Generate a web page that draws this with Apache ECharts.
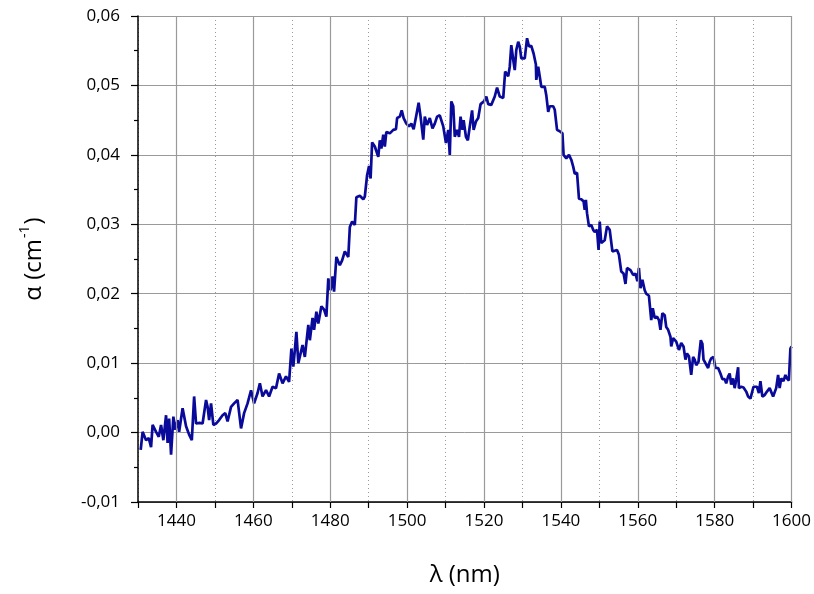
<!DOCTYPE html>
<html>
<head>
<meta charset="utf-8">
<script src="https://cdn.jsdelivr.net/npm/echarts@6/dist/echarts.min.js"></script>
<style>html,body{margin:0;padding:0;background:#fff}#c{width:814px;height:594px}</style>
</head>
<body>
<div id="c"></div>
<script>
const wavelength = [1430.7,1431.2,1432.1,1432.8,1433.4,1433.8,1434.7,1435.4,1436.0,1436.6,1437.3,1437.7,1438.1,1438.6,1439.2,1439.7,1440.3,1440.7,1441.6,1442.5,1443.3,1444.0,1444.6,1445.1,1446.0,1446.8,1447.7,1448.1,1448.5,1449.0,1449.6,1450.3,1451.1,1452.0,1452.7,1453.3,1454.2,1455.0,1455.9,1456.8,1457.6,1458.5,1459.4,1460.2,1461.1,1461.7,1462.4,1463.3,1464.1,1465.0,1465.9,1466.7,1467.6,1468.5,1469.3,
1469.9,1470.4,1470.8,1471.2,1471.7,1472.1,1472.8,1473.4,1474.3,1474.7,1475.4,1475.8,1476.4,1476.9,1477.7,1478.4,1479.0,1479.5,1480.1,1480.6,1481.0,1481.6,1482.5,1483.1,1483.8,1484.7,1485.1,1485.7,1486.4,1486.8,1487.7,1488.6,1489.0,1489.6,1490.1,1490.5,1490.9,1491.6,1492.5,1492.9,1493.3,1493.8,1494.2,1494.6,1495.5,1496.4,1497.1,1497.4,1498.1,1498.6,1499.1,1499.8,1500.5,1501.1,1501.7,1502.4,1503.0,1503.5,1504.2,1504.6,1505.2,1505.9,1506.6,1507.2,1507.8,1508.5,
1509.4,1510.1,1510.7,1511.1,1511.5,1512.0,1512.4,1513.0,1513.5,1513.9,1514.4,1514.7,1515.3,1515.8,1516.3,1516.9,1517.3,1517.9,1518.5,1519.1,1520.0,1520.6,1521.1,1521.9,1522.4,1522.8,1523.4,1524.1,1525.0,1525.5,1526.3,1526.7,1527.1,1527.6,1528.0,1528.4,1528.9,1529.3,1529.7,1530.6,1531.2,1531.7,1532.3,1532.9,1533.5,1533.6,1534.1,1534.5,1534.9,1535.8,1536.2,1536.7,1537.1,1538.0,1538.4,1539.0,1539.7,1540.4,1540.7,1541.4,1542.1,1542.7,
1543.2,1543.6,1544.2,1544.7,1545.3,1545.9,1546.2,1546.5,1546.8,1547.3,1547.9,1548.4,1548.8,1549.4,1549.8,1550.1,1550.5,1551.4,1552.0,1552.7,1553.4,1554.0,1554.6,1555.1,1555.7,1556.3,1556.8,1557.2,1558.1,1558.8,1559.4,1559.9,1560.3,1560.7,1561.2,1561.8,1562.2,1562.9,1563.5,1563.9,1564.4,1565.0,1565.5,1565.9,1566.4,1567.0,1567.4,1567.9,1568.5,1568.7,1569.2,1569.6,1570.0,1570.7,1571.3,1571.9,1572.4,1572.8,1573.3,1573.9,1574.4,1574.8,1575.2,1575.8,1576.4,1576.8,1577.1,1577.6,1578.3,1578.7,1579.1,1579.7,1580.2,1580.9,1581.5,1582.0,1582.6,1583.0,1583.5,1583.9,1584.3,1584.8,1585.2,1585.6,1586.1,1586.3,1586.9,1587.5,1588.2,1588.7,1589.3,1589.8,1590.1,1590.6,1591.0,1591.5,1591.9,1592.4,1593.0,1593.6,1594.3,1594.7,1595.2,1595.6,1596.0,1596.5,1596.9,1597.3,1597.9,1598.4,1598.8,1599.3,1599.7,1600.0];
const alpha = [-0.0025,0.0001,-0.0011,-0.0008,-0.0021,0.0011,0.0001,-0.0006,0.0011,-0.0011,0.0025,-0.0015,0.0020,-0.0032,0.0023,0.0004,0.0018,0.0001,0.0035,0.0009,-0.0003,-0.0011,0.0052,0.0013,0.0014,0.0013,0.0047,0.0037,0.0018,0.0042,0.0011,0.0013,0.0018,0.0025,0.0028,0.0016,0.0037,0.0042,0.0047,0.0006,0.0028,0.0042,0.0061,0.0042,0.0057,0.0071,0.0052,0.0061,0.0052,0.0066,0.0064,0.0085,0.0071,0.0081,0.0073,
0.0121,0.0095,0.0119,0.0145,0.0100,0.0102,0.0126,0.0109,0.0155,0.0133,0.0165,0.0148,0.0174,0.0157,0.0182,0.0177,0.0167,0.0222,0.0205,0.0225,0.0203,0.0253,0.0241,0.0248,0.0261,0.0253,0.0296,0.0304,0.0299,0.0339,0.0341,0.0336,0.0340,0.0371,0.0384,0.0366,0.0418,0.0412,0.0397,0.0421,0.0409,0.0429,0.0412,0.0433,0.0431,0.0436,0.0437,0.0453,0.0455,0.0464,0.0453,0.0445,0.0441,0.0445,0.0437,0.0457,0.0475,0.0455,0.0422,0.0455,0.0443,0.0453,0.0438,0.0445,0.0455,0.0457,
0.0441,0.0417,0.0436,0.0400,0.0477,0.0470,0.0426,0.0436,0.0426,0.0455,0.0436,0.0450,0.0426,0.0421,0.0441,0.0464,0.0436,0.0448,0.0453,0.0473,0.0477,0.0484,0.0473,0.0472,0.0470,0.0484,0.0497,0.0484,0.0482,0.0520,0.0513,0.0527,0.0558,0.0537,0.0522,0.0551,0.0563,0.0556,0.0539,0.0539,0.0568,0.0556,0.0557,0.0546,0.0530,0.0508,0.0527,0.0513,0.0498,0.0498,0.0486,0.0462,0.0470,0.0470,0.0465,0.0436,0.0434,0.0431,0.0400,0.0395,0.0400,0.0393,
0.0383,0.0373,0.0374,0.0337,0.0336,0.0333,0.0321,0.0335,0.0316,0.0297,0.0299,0.0292,0.0289,0.0292,0.0263,0.0304,0.0273,0.0277,0.0297,0.0292,0.0261,0.0262,0.0263,0.0256,0.0232,0.0229,0.0214,0.0237,0.0234,0.0227,0.0229,0.0218,0.0237,0.0208,0.0220,0.0205,0.0200,0.0197,0.0162,0.0179,0.0165,0.0167,0.0162,0.0148,0.0172,0.0169,0.0152,0.0148,0.0138,0.0124,0.0136,0.0134,0.0131,0.0119,0.0129,0.0124,0.0105,0.0114,0.0110,0.0083,0.0109,0.0105,0.0097,0.0102,0.0133,0.0128,0.0105,0.0105,0.0093,0.0102,0.0107,0.0109,0.0093,0.0093,0.0085,0.0077,0.0077,0.0071,0.0081,0.0085,0.0069,0.0078,0.0064,0.0076,0.0094,0.0064,0.0066,0.0065,0.0059,0.0052,0.0049,0.0047,0.0066,0.0064,0.0066,0.0057,0.0074,0.0052,0.0054,0.0059,0.0064,0.0062,0.0052,0.0052,0.0064,0.0083,0.0064,0.0078,0.0074,0.0083,0.0078,0.0075,0.0121,0.0124];
const majorX = [1440,1460,1480,1500,1520,1540,1560,1580,1600];

const chart = echarts.init(document.getElementById('c'));
const FONT = 'Open Sans';
chart.setOption({
  animation: false,
  backgroundColor: '#fff',
  grid: {left: 138, right: 22, top: 16, bottom: 92, containLabel: false},
  xAxis: {
    type: 'value', min: 1430, max: 1600, interval: 10,
    name: 'λ (nm)', nameLocation: 'middle', nameGap: 61,
    nameTextStyle: {fontFamily: FONT, fontSize: 24, color: '#000'},
    axisLine: {show: true, onZero: false, lineStyle: {color: '#000', width: 1.5}},
    axisTick: {show: true, length: 6, lineStyle: {color: '#000', width: 1.2}},
    axisLabel: {
      fontFamily: FONT, fontSize: 17, color: '#000', margin: 11,
      formatter: v => (Math.round(v) % 20 === 0 ? String(Math.round(v)) : '')
    },
    splitLine: {show: true, lineStyle: {color: '#9a9a9a', type: [1, 3], width: 1}}
  },
  yAxis: {
    type: 'value', min: -0.01, max: 0.06, interval: 0.01,
    name: '{a|α (cm}{s|-1}{a|)}', nameLocation: 'middle', nameGap: 88,
    nameTextStyle: {
      fontFamily: FONT, fontSize: 24, color: '#000',
      rich: {
        a: {fontFamily: FONT, fontSize: 24, color: '#000', lineHeight: 32},
        s: {fontFamily: FONT, fontSize: 14, color: '#000', lineHeight: 32, verticalAlign: 'top', padding: [0, 1, 12, 1]}
      }
    },
    axisLine: {show: true, onZero: false, lineStyle: {color: '#000', width: 1.5}},
    axisTick: {show: true, length: 7, lineStyle: {color: '#000', width: 1.2}},
    minorTick: {show: true, splitNumber: 2, length: 4, lineStyle: {color: '#000', width: 1.2}},
    axisLabel: {
      fontFamily: FONT, fontSize: 17, color: '#000', margin: 18,
      formatter: v => (Math.abs(v) < 1e-9 ? '0,00' : v.toFixed(2).replace('.', ','))
    },
    splitLine: {show: true, lineStyle: {color: '#9a9a9a', width: 1}}
  },
  series: [
    {
      type: 'line', data: [], silent: true, z: 1,
      markLine: {
        silent: true, symbol: 'none', animation: false,
        label: {show: false},
        lineStyle: {color: '#9a9a9a', type: 'solid', width: 1.2},
        data: majorX.map(x => ({xAxis: x}))
      }
    },
    {
      type: 'line', z: 3,
      data: wavelength.map((x, i) => [x, alpha[i]]),
      showSymbol: false, symbol: 'none',
      lineStyle: {color: '#0a0a9a', width: 2.7},
      itemStyle: {color: '#0a0a9a'}
    }
  ]
});
</script>
</body>
</html>
